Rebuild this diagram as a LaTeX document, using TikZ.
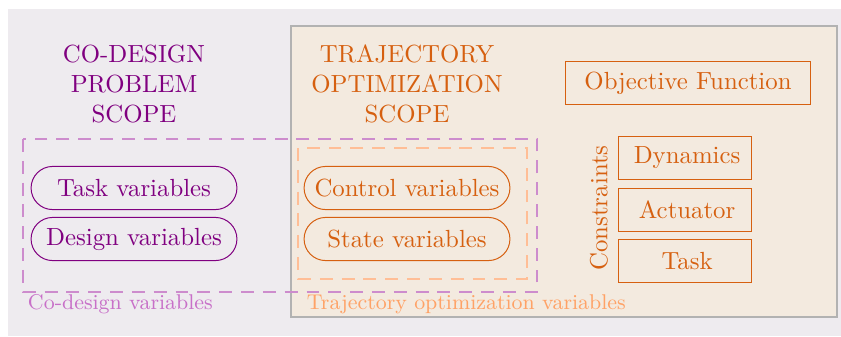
\documentclass[tikz,border=0pt]{standalone}
\usepackage{tikz}
\usetikzlibrary{positioning,shapes.misc}
\usepackage{xcolor}
\definecolor{cdpurple}{RGB}{128,0,128}
\definecolor{cdlight}{RGB}{205,140,205}
\definecolor{cdlabel}{RGB}{200,112,200}
\definecolor{toorange}{RGB}{214,96,16}
\definecolor{tolight}{RGB}{255,190,150}
\definecolor{tolabel}{RGB}{255,162,102}
\definecolor{bggray}{RGB}{238,235,239}
\definecolor{tobeige}{RGB}{243,234,223}
\definecolor{boxgray}{RGB}{178,178,178}

\begin{document}
\begin{tikzpicture}[
    x=0.4032pt, y=-0.4032pt,
    font=\normalsize,
    var/.style={draw, rounded rectangle, minimum width=87pt, minimum height=17.4pt, inner sep=2pt},
    cdvar/.style={var, draw=cdpurple, text=cdpurple},
    tovar/.style={var, draw=toorange, text=toorange},
    block/.style={draw=toorange, text=toorange, minimum height=17.4pt},
    zone/.style={dash pattern=on 5.2pt off 3.6pt, line width=0.6pt},
    scopetitle/.style={align=center},
    zonelabel/.style={anchor=west, inner sep=1pt, font=\fontsize{8.6}{10}\selectfont},
  ]
    \useasboundingbox (0,0) rectangle (841,336);
    \fill[bggray] (8,9) rectangle (841,336);
    \draw[boxgray, fill=tobeige, line width=0.8pt] (291,26) rectangle (837,317);

    \node[scopetitle, text=cdpurple] (cdtitle) at (134,84) {CO-DESIGN\\PROBLEM\\SCOPE};
    \node[scopetitle, text=toorange] (totitle) at (407,84) {TRAJECTORY\\OPTIMIZATION\\SCOPE};

    \node[cdvar] (taskvar) at (134,188) {Task variables};
    \node[cdvar] (designvar) at (134,239) {Design variables};
    \node[tovar] (controlvar) at (407,188) {Control variables};
    \node[tovar] (statevar) at (407,239) {State variables};

    \draw[zone, cdlight] (23,139) rectangle (537,292);
    \draw[zone, tolight] (298,148) rectangle (527,279);
    \node[zonelabel, text=cdlabel] (cdlabel) at (25,304) {Co-design variables};
    \node[zonelabel, text=tolabel] (tolabel) at (304,304) {Trajectory optimization variables};

    \node[block, minimum width=98.8pt] (objective) at (688,83) {Objective Function};
    \node[block, minimum width=54pt] (dynamics) at (685,158) {\,Dynamics};
    \node[block, minimum width=54pt, below=3pt of dynamics] (actuator) {\,Actuator};
    \node[block, minimum width=54pt, below=3pt of actuator] (task) {\,Task};
    \node[rotate=90, text=toorange, inner sep=1pt] (constraints) at (599,208) {Constraints};
  \end{tikzpicture}
\end{document}
